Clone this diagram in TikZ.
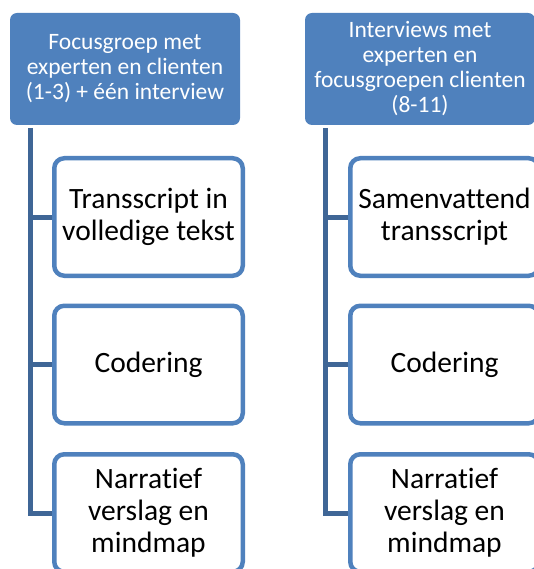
\documentclass[tikz,border=0pt]{standalone}
\usepackage{fontspec}
\setmainfont[Ligatures=NoCommon]{Carlito}
\definecolor{hdrblue}{HTML}{4F81BD}
\definecolor{spineblue}{HTML}{3F6696}
\tikzset{
  header/.style={rectangle, rounded corners=7pt, fill=hdrblue, draw=none,
    minimum width=230pt, minimum height=112pt, inner sep=0pt,
    text=white, align=center,
    font=\fontsize{23.5pt}{25pt}\selectfont},
  childbox/.style={rectangle, rounded corners=10pt, fill=white, draw=hdrblue,
    line width=4.5pt, minimum width=188.5pt, minimum height=117.5pt,
    inner sep=0pt, align=center, text=black,
    font=\fontsize{29.5pt}{32pt}\selectfont},
  conn/.style={draw=spineblue, line width=5pt}
}
\begin{document}
\begin{tikzpicture}[x=1pt, y=-1pt]
  \useasboundingbox (0,0) rectangle (534,569);
  \begin{scope}
    \clip (0,0) rectangle (534,569);
    % left column
    \node[header] (hL) at (125,69) {Focusgroep met\\experten en clienten\\(1-3) + één interview};
    \node[childbox] (aL) at (148.5,217) {Transscript in\\volledige tekst};
    \node[childbox] (bL) at (148.5,364.5) {Codering};
    \node[childbox] (cL) at (148.5,513) {Narratief\\verslag en\\mindmap};
    \coordinate (sL) at (30,128);
    \draw[conn] (sL) |- (cL.west);
    \draw[conn] (sL |- aL.west) -- (aL.west);
    \draw[conn] (sL |- bL.west) -- (bL.west);
    % right column
    \node[header] (hR) at (420,69) {Interviews met\\experten en\\focusgroepen clienten\\(8-11)};
    \node[childbox] (aR) at (444.5,217) {Samenvattend\\transscript};
    \node[childbox] (bR) at (444.5,364.5) {Codering};
    \node[childbox] (cR) at (444.5,513) {Narratief\\verslag en\\mindmap};
    \coordinate (sR) at (325,128);
    \draw[conn] (sR) |- (cR.west);
    \draw[conn] (sR |- aR.west) -- (aR.west);
    \draw[conn] (sR |- bR.west) -- (bR.west);
  \end{scope}
\end{tikzpicture}
\end{document}
